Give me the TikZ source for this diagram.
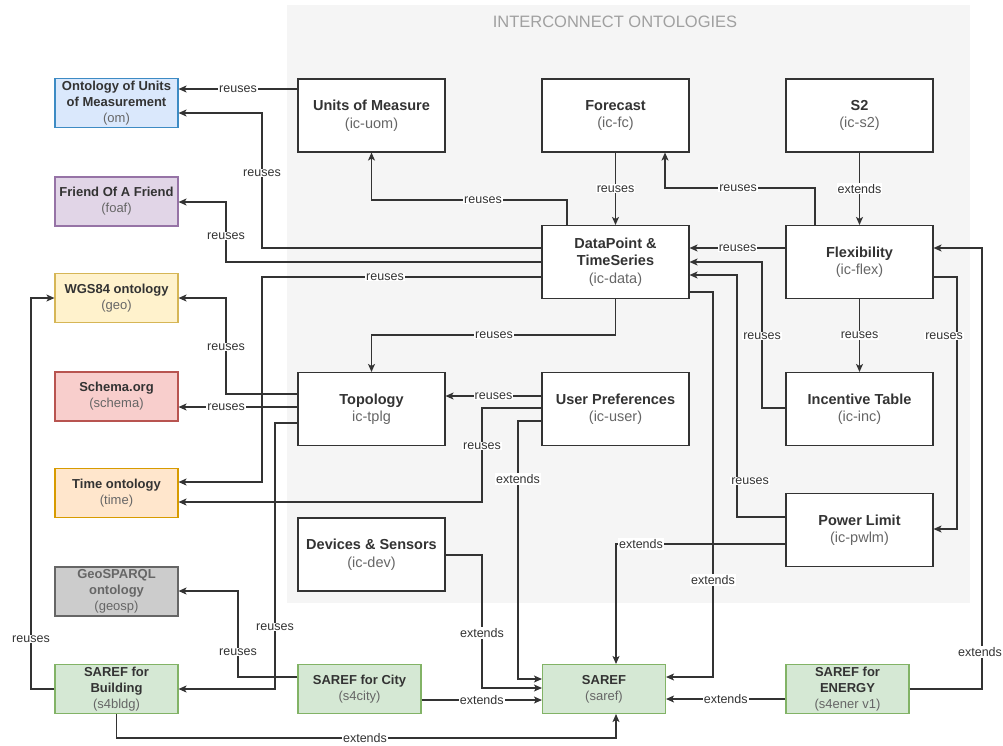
\documentclass[tikz,border=0pt]{standalone}
\usepackage{fontspec}
\setmainfont{Liberation Sans}
\usetikzlibrary{arrows.meta}
\definecolor{ln}{HTML}{333333}
\definecolor{icb}{HTML}{333333}
\definecolor{txt}{HTML}{333333}
\definecolor{subc}{HTML}{666666}
\definecolor{bgc}{HTML}{F5F5F5}
\definecolor{ttl}{HTML}{A0A0A0}
\definecolor{blueF}{HTML}{DAE8FC}\definecolor{blueD}{HTML}{3D8BC4}
\definecolor{purpF}{HTML}{E1D5E7}\definecolor{purpD}{HTML}{9673A6}
\definecolor{yellF}{HTML}{FFF2CC}\definecolor{yellD}{HTML}{D6B656}
\definecolor{redF}{HTML}{F8CECC}\definecolor{redD}{HTML}{B85450}
\definecolor{oranF}{HTML}{FFE6CC}\definecolor{oranD}{HTML}{D79B00}
\definecolor{grayF}{HTML}{CCCCCC}\definecolor{grayD}{HTML}{666666}
\definecolor{grnF}{HTML}{D5E8D4}\definecolor{grnD}{HTML}{82B366}
\newcommand\mysub[1]{{\color{subc}#1}}
\begin{document}
\begin{tikzpicture}[x=1pt,y=-1pt,
  ic/.style={draw=icb, fill=white, line width=1.1pt, minimum width=147pt, minimum height=73pt, align=center, inner sep=0pt, text=txt, font=\fontsize{14.5}{17.5}\selectfont},
  ext/.style={line width=1.1pt, minimum width=123pt, minimum height=49pt, align=center, inner sep=0pt, text=txt, font=\fontsize{13}{16}\selectfont},
  conn/.style={draw=ln, line width=1.1pt, -{Stealth[length=8pt,width=7pt,inset=2pt]}},
  lbl/.style={fill=white, inner sep=1pt, text=txt, font=\fontsize{12.5}{14}\selectfont}]
\useasboundingbox (0,0) rectangle (1003,745);
\fill[bgc] (287,5) rectangle (970,603);
\node[text=ttl, font=\fontsize{16.5}{20}\selectfont] (title) at (615,22) {INTERCONNECT ONTOLOGIES};
% interconnect modules
\node[ic] (uom) at (371.5,115.5) {{\bfseries Units of Measure}\\\mysub{(ic-uom)}};
\node[ic] (fc) at (615.5,115.5) {{\bfseries Forecast}\\\mysub{(ic-fc)}};
\node[ic] (s2) at (859.5,115.5) {{\bfseries S2}\\\mysub{(ic-s2)}};
\node[ic] (data) at (615.5,262) {{\bfseries DataPoint \&}\\{\bfseries TimeSeries}\\\mysub{(ic-data)}};
\node[ic] (flex) at (859.5,262) {{\bfseries Flexibility}\\\mysub{(ic-flex)}};
\node[ic] (tplg) at (371.5,409) {{\bfseries Topology}\\\mysub{ic-tplg}};
\node[ic] (user) at (615.5,409) {{\bfseries User Preferences}\\\mysub{(ic-user)}};
\node[ic] (inc) at (859.5,409) {{\bfseries Incentive Table}\\\mysub{(ic-inc)}};
\node[ic] (pwlm) at (859.5,530) {{\bfseries Power Limit}\\\mysub{(ic-pwlm)}};
\node[ic] (dev) at (371.5,554.5) {{\bfseries Devices \& Sensors}\\\mysub{(ic-dev)}};
% external ontologies
\node[ext, fill=blueF, draw=blueD] (om) at (116.5,103) {{\bfseries Ontology of Units}\\{\bfseries of Measurement}\\\mysub{(om)}};
\node[ext, fill=purpF, draw=purpD] (foaf) at (116.5,201.5) {{\bfseries Friend Of A Friend}\\\mysub{(foaf)}};
\node[ext, fill=yellF, draw=yellD] (geo) at (116.5,298) {{\bfseries WGS84 ontology}\\\mysub{(geo)}};
\node[ext, fill=redF, draw=redD] (schema) at (116.5,396.5) {{\bfseries Schema.org}\\\mysub{(schema)}};
\node[ext, fill=oranF, draw=oranD] (time) at (116.5,493) {{\bfseries Time ontology}\\\mysub{(time)}};
\node[ext, fill=grayF, draw=grayD, text=subc] (geosp) at (116.5,591.5) {{\bfseries GeoSPARQL}\\{\bfseries ontology}\\(geosp)};
\node[ext, fill=grnF, draw=grnD] (s4bldg) at (116.5,689) {{\bfseries SAREF for}\\{\bfseries Building}\\\mysub{(s4bldg)}};
\node[ext, fill=grnF, draw=grnD] (s4city) at (359.5,689) {{\bfseries SAREF for City}\\\mysub{(s4city)}};
\node[ext, fill=grnF, draw=grnD] (saref) at (604,689) {{\bfseries SAREF}\\\mysub{(saref)}};
\node[ext, fill=grnF, draw=grnD] (s4ener) at (847.5,689) {{\bfseries SAREF for}\\{\bfseries ENERGY}\\\mysub{(s4ener v1)}};
% connectors
\draw[conn] (uom.west |- 0,89) -- node[lbl]{reuses} (om.east |- 0,89);
\draw[conn] (data.west |- 0,248) -- (262,248) -- (262,113) -- (om.east |- 0,113) node[lbl] at (262,173) {reuses};
\draw[conn] (data.west |- 0,262) -- (226,262) -- (226,202) -- (foaf.east |- 0,202) node[lbl] at (226,236) {reuses};
\draw[conn] (data.west |- 0,277) -- (262,277) -- (262,482) -- (time.east |- 0,482) node[lbl] at (385,277) {reuses};
\draw[conn] (fc.south) -- node[lbl]{reuses} (data.north);
\draw[conn] (data.north -| 567,0) -- (567,200) -- (uom.south |- 0,200) -- (uom.south) node[lbl] at (483,200) {reuses};
\draw[conn] (flex.north -| 815,0) -- (815,188) -- (665,188) -- (fc.south -| 665,0) node[lbl] at (738,188) {reuses};
\draw[conn] (s2.south) -- node[lbl]{extends} (flex.north);
\draw[conn] (flex.west |- 0,248) -- node[lbl]{reuses} (data.east |- 0,248);
\draw[conn] (inc.west |- 0,408) -- (762,408) -- (762,262) -- (data.east |- 0,262) node[lbl] at (762,336) {reuses};
\draw[conn] (pwlm.west |- 0,517) -- (737,517) -- (737,275) -- (data.east |- 0,275) node[lbl] at (750,481) {reuses};
\draw[conn] (flex.south) -- node[lbl]{reuses} (inc.north);
\draw[conn] (flex.east |- 0,277) -- (957,277) -- (957,529) -- (pwlm.east |- 0,529) node[lbl] at (944,336) {reuses};
\draw[conn] (data.east |- 0,292) -- (713,292) -- (713,677) -- (saref.east |- 0,677) node[lbl] at (713,580) {extends};
\draw[conn] (s4ener.west |- 0,699) -- node[lbl]{extends} (saref.east |- 0,699);
\draw[conn] (s4ener.east |- 0,689) -- (982,689) -- (982,248) -- (flex.east |- 0,248) node[lbl] at (980,652) {extends};
\draw[conn] (pwlm.west |- 0,544) -- (616,544) -- (saref.north -| 616,0) node[lbl] at (641,544) {extends};
\draw[conn] (user.west |- 0,396) -- node[lbl]{reuses} (tplg.east |- 0,396);
\draw[conn] (user.west |- 0,408) -- (482,408) -- (482,502) -- (time.east |- 0,502) node[lbl] at (482,446) {reuses};
\draw[conn] (user.west |- 0,421) -- (518,421) -- (518,679) -- (saref.west |- 0,679) node[lbl] at (518,479) {extends};
\draw[conn] (dev.east |- 0,555) -- (482,555) -- (482,688) -- (saref.west |- 0,688) node[lbl] at (482,633) {extends};
\draw[conn] (s4city.east |- 0,700) -- node[lbl]{extends} (saref.west |- 0,700);
\draw[conn] (data.south) -- (data.south |- 0,335) -- (tplg.north |- 0,335) -- (tplg.north) node[lbl] at (494,335) {reuses};
\draw[conn] (tplg.west |- 0,394) -- (226,394) -- (226,298) -- (geo.east |- 0,298) node[lbl] at (226,347) {reuses};
\draw[conn] (tplg.west |- 0,407) -- node[lbl, pos=0.6]{reuses} (schema.east |- 0,407);
\draw[conn] (tplg.west |- 0,423) -- (275,423) -- (275,689) -- (s4bldg.east |- 0,689) node[lbl] at (275,627) {reuses};
\draw[conn] (s4city.west |- 0,677) -- (238,677) -- (238,591) -- (geosp.east |- 0,591) node[lbl] at (238,652) {reuses};
\draw[conn] (s4bldg.west) -- (31,689) -- (31,298) -- (geo.west) node[lbl] at (31,639) {reuses};
\draw[conn] (s4bldg.south) -- (s4bldg.south |- 0,738) -- (616,738) -- (saref.south -| 616,0) node[lbl] at (365,738) {extends};
\end{tikzpicture}
\end{document}
